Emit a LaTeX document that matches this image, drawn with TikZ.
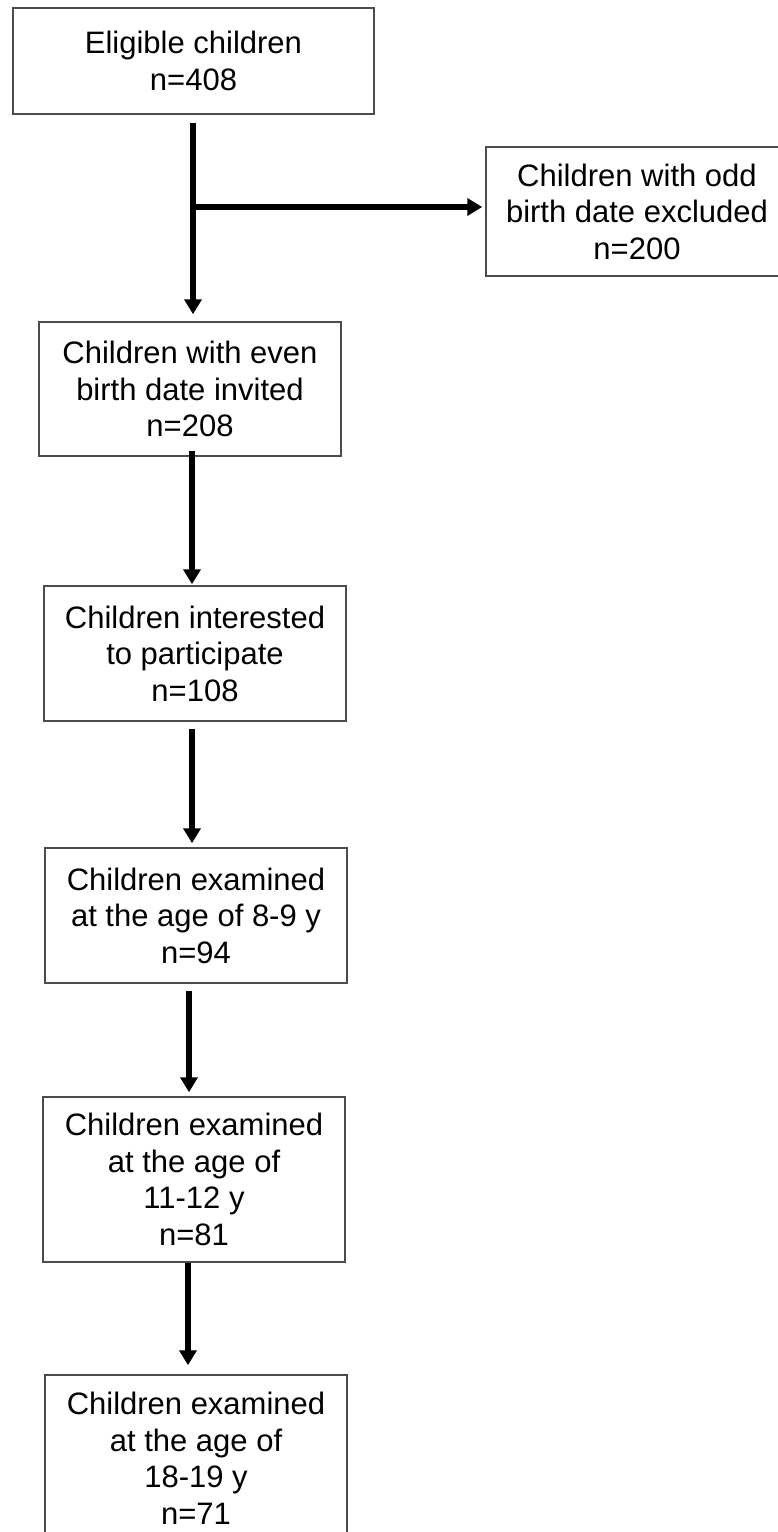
\documentclass[tikz,border=0pt]{standalone}
\usepackage{fontspec}
\setmainfont{Liberation Sans}
\usetikzlibrary{arrows.meta}
\begin{document}
\begin{tikzpicture}[x=1pt,y=-1pt,
  box/.style={draw=black!70,line width=1.5pt,align=center,inner sep=0pt,
    font=\fontsize{31}{36.5}\selectfont,minimum width=302pt},
  arr/.style={line width=5.5pt,-{Triangle[length=15pt,width=17pt]}}]
\useasboundingbox (0,0) rectangle (778,1532);
\node[box,minimum width=361pt,minimum height=106pt] (b1) at (193.5,61) {Eligible children\\n=408};
\node[box,minimum height=129pt] (ex) at (637,211.5) {Children with odd\\birth date excluded\\n=200};
\node[box,minimum height=134pt] (b2) at (190,389) {Children with even\\birth date invited\\n=208};
\node[box,minimum height=135pt] (b3) at (195,653.5) {Children interested\\to participate\\n=108};
\node[box,minimum height=135pt] (b4) at (196,915.5) {Children examined\\at the age of 8-9 y\\n=94};
\node[box,minimum height=165pt] (b5) at (194,1179.5) {Children examined\\at the age of\\11-12 y\\n=81};
\node[box,minimum height=166pt] (b6) at (196,1458) {Children examined\\at the age of\\18-19 y\\n=71};
% arrow 1 with branch
\path (b1.south) ++(-0.5,8) coordinate (s1);
\path (b2.north) ++(0,-7) coordinate (e1);
\draw[arr] (s1) -- (s1 |- e1);
\path ([yshift=4.5pt]ex.west) ++(-3,0) coordinate (e0);
\draw[arr] (s1 |- e0) -- (e0);
% arrow 2
\path (b2.south) ++(2,-6) coordinate (s2);
\path (b3.north) ++(0,-1) coordinate (e2);
\draw[arr] (s2) -- (s2 |- e2);
% arrow 3
\path (b3.south) ++(-3,7) coordinate (s3);
\path (b4.north) ++(0,-4) coordinate (e3);
\draw[arr] (s3) -- (s3 |- e3);
% arrow 4
\path (b4.south) ++(-7,7) coordinate (s4);
\path (b5.north) ++(0,-4) coordinate (e4);
\draw[arr] (s4) -- (s4 |- e4);
% arrow 5
\path (b5.south) ++(-6,0) coordinate (s5);
\path (b6.north) ++(0,-9) coordinate (e5);
\draw[arr] (s5) -- (s5 |- e5);
\end{tikzpicture}
\end{document}
